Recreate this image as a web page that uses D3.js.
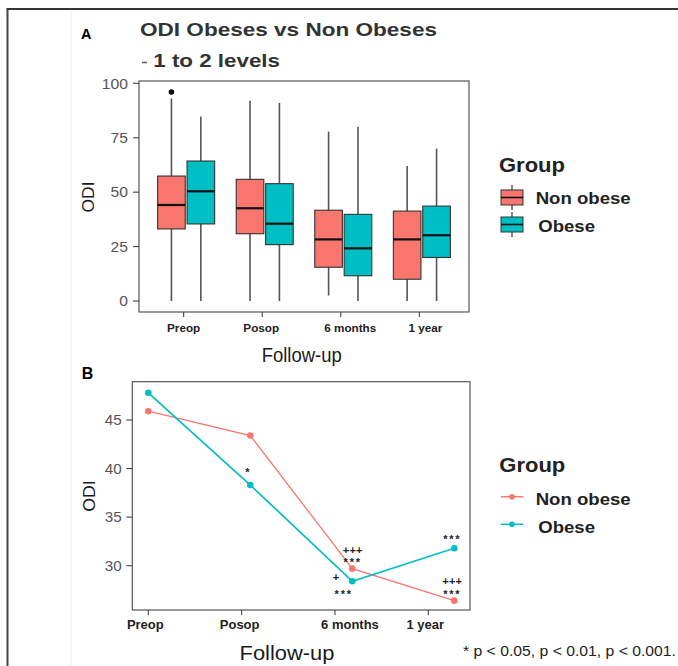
<!DOCTYPE html>
<html><head><meta charset="utf-8">
<script src="https://cdn.jsdelivr.net/npm/d3@7"></script>
<style>body{margin:0;background:#fff} svg{display:block} text{font-family:"Liberation Sans",Arial,sans-serif}</style>
</head><body><svg id="c" width="678" height="666"></svg>
<script>
// ---------- DATA ----------
const categories = ["Preop", "Posop", "6 months", "1 year"];
const groups = ["Non obese", "Obese"];
// boxplot stats per category: [lower whisker, Q1, median, Q3, upper whisker]
const nonObeseBox = [[0, 33.1, 44.1, 57.4, 93], [0, 30.9, 42.6, 55.9, 92], [2.5, 15.5, 28.3, 41.7, 77.8], [0, 10, 28.3, 41.3, 62]];
const obeseBox = [[0, 35.4, 50.4, 64.3, 84.7], [0, 25.9, 35.5, 53.9, 91], [0, 11.6, 24.2, 39.8, 80], [0, 20, 30.2, 43.6, 70]];
const outliers = [{ cat: "Preop", group: "Non obese", value: 96 }];
const yTicksA = [0, 25, 50, 75, 100];
// panel B means
const nonObeseMean = [45.9, 43.4, 29.7, 26.4];
const obeseMean = [47.8, 38.3, 28.4, 31.8];
const yTicksB = [30, 35, 40, 45];
const xTickPosB = [1, 1.915, 2.83, 3.745];
// significance marks (x in category units, y of glyph centre in ODI units)
const annotations = [
  { x: 1.98, y: 39.92, text: "*" },
  { x: 3.004, y: 31.62, text: "+++" },
  { x: 3.004, y: 30.62, text: "***" },
  { x: 2.84, y: 28.77, text: "+" },
  { x: 2.916, y: 27.33, text: "***" },
  { x: 3.98, y: 32.98, text: "***" },
  { x: 3.98, y: 28.36, text: "+++" },
  { x: 3.98, y: 27.36, text: "***" }
];
const colors = ["#F8766D", "#00BFC4"];

// ---------- HELPERS ----------
const svg = d3.select("#c");
function T(x, y, s, o = {}) {
  const t = svg.append("text")
    .attr("x", x).attr("y", y).text(s)
    .attr("font-size", o.size || 12)
    .attr("font-weight", o.weight || "normal")
    .attr("fill", o.fill || "#222")
    .attr("text-anchor", o.anchor || "start");
  if (o.width) t.attr("textLength", o.width).attr("lengthAdjust", "spacingAndGlyphs");
  if (o.ls) t.attr("letter-spacing", o.ls);
  let tr = "";
  if (o.rotate) tr += `rotate(${o.rotate},${x},${y}) `;
  if (o.sx) tr += `translate(${x},${y}) scale(${o.sx},1) translate(${-x},${-y})`;
  if (tr) t.attr("transform", tr);
  return t;
}

// frame
svg.append("line").attr("x1", 71).attr("x2", 71).attr("y1", 9).attr("y2", 666).attr("stroke", "#f0f0f0").attr("stroke-width", 1.2);
svg.append("line").attr("x1", 6.5).attr("x2", 678).attr("y1", 9).attr("y2", 9).attr("stroke", "#333").attr("stroke-width", 1.8);
svg.append("line").attr("x1", 7.5).attr("x2", 7.5).attr("y1", 9).attr("y2", 666).attr("stroke", "#444").attr("stroke-width", 2);

// ---------- PANEL A ----------
const A = { l: 139, r: 469, t: 81, b: 312 };
const xA = d3.scalePoint().domain(categories).range([A.l, A.r]).padding(0.6);
const yA = d3.scaleLinear().domain([-5.05, 101.06]).range([A.b, A.t]);
const dodge = 14.7, bw = 27.6;

T(81, 38.5, "A", { size: 14.5, weight: "bold", fill: "#000" });
T(140, 35.5, "ODI Obeses vs Non Obeses", { size: 18.5, weight: "bold", fill: "#333", width: 297 });
svg.append("line").attr("x1", 142).attr("x2", 147).attr("y1", 62.5).attr("y2", 62.5).attr("stroke", "#555").attr("stroke-width", 1.5);
T(153.3, 66.7, "1 to 2 levels", { size: 18, weight: "bold", fill: "#333", width: 126.7 });

const gA = svg.append("g");
[nonObeseBox, obeseBox].forEach((series, gi) => {
  series.forEach((s, ci) => {
    const cx = xA(categories[ci]) + (gi === 0 ? -dodge : dodge);
    gA.append("line").attr("x1", cx).attr("x2", cx).attr("y1", yA(s[0])).attr("y2", yA(s[4]))
      .attr("stroke", "#555").attr("stroke-width", 1.6);
    gA.append("rect").attr("x", cx - bw / 2).attr("width", bw).attr("y", yA(s[3])).attr("height", yA(s[1]) - yA(s[3]))
      .attr("fill", colors[gi]).attr("stroke", "#333").attr("stroke-width", 1.1);
    gA.append("line").attr("x1", cx - bw / 2).attr("x2", cx + bw / 2).attr("y1", yA(s[2])).attr("y2", yA(s[2]))
      .attr("stroke", "#111").attr("stroke-width", 2.2);
  });
});
outliers.forEach(o => {
  const cx = xA(o.cat) + (groups.indexOf(o.group) === 0 ? -dodge : dodge);
  gA.append("circle").attr("cx", cx).attr("cy", yA(o.value)).attr("r", 2.8).attr("fill", "#111");
});
svg.append("rect").attr("x", A.l).attr("y", A.t).attr("width", A.r - A.l).attr("height", A.b - A.t)
  .attr("fill", "none").attr("stroke", "#555").attr("stroke-width", 1.2);
yTicksA.forEach(v => {
  svg.append("line").attr("x1", A.l - 6).attr("x2", A.l).attr("y1", yA(v)).attr("y2", yA(v)).attr("stroke", "#444").attr("stroke-width", 1.1);
  T(128, yA(v) + 5.2, String(v), { size: 14.5, fill: "#555", anchor: "end", sx: 1.08 });
});
const labelShiftA = [0, -1, 9.5, 6];
categories.forEach((c, i) => {
  svg.append("line").attr("x1", xA(c) - 2.5).attr("x2", xA(c) - 2.5).attr("y1", A.b).attr("y2", A.b + 5).attr("stroke", "#444").attr("stroke-width", 1.1);
  T(xA(c) - 2.5 + labelShiftA[i], 331.5, c, { size: 11.7, weight: "bold", fill: "#222", anchor: "middle" });
});
T(301.7, 361.5, "Follow-up", { size: 20.5, fill: "#1a1a1a", anchor: "middle", width: 80 });
T(94.3, 197, "ODI", { size: 17, fill: "#1a1a1a", anchor: "middle", rotate: -90, width: 31 });

// legend A
T(499, 171.5, "Group", { size: 20.5, weight: "bold", fill: "#222", width: 66 });
[197.5, 224.5].forEach((cy, gi) => {
  const cx = 512;
  svg.append("line").attr("x1", cx).attr("x2", cx).attr("y1", cy - 12.5).attr("y2", cy + 12.5).attr("stroke", "#444").attr("stroke-width", 1.3);
  svg.append("rect").attr("x", cx - 11).attr("y", cy - 7.5).attr("width", 22).attr("height", 15).attr("fill", colors[gi]).attr("stroke", "#333").attr("stroke-width", 1);
  svg.append("line").attr("x1", cx - 11).attr("x2", cx + 11).attr("y1", cy).attr("y2", cy).attr("stroke", "#111").attr("stroke-width", 1.6);
});
T(535.7, 204.3, groups[0], { size: 16.8, weight: "bold", fill: "#222", width: 95 });
T(538.3, 231.7, groups[1], { size: 16.8, weight: "bold", fill: "#222", width: 56.7 });

// ---------- PANEL B ----------
const B = { l: 132.3, r: 470, t: 381.7, b: 610 };
const xB = d3.scaleLinear().domain([0.843, 4.154]).range([B.l, B.r]);
const yB = d3.scaleLinear().domain([25.44, 48.94]).range([B.b, B.t]);

T(81.7, 379, "B", { size: 16, weight: "bold", fill: "#000" });
const line = d3.line().x((d, i) => xB(i + 1)).y(d => yB(d));
[nonObeseMean, obeseMean].forEach((s, gi) => {
  svg.append("path").datum(s).attr("d", line).attr("fill", "none").attr("stroke", colors[gi]).attr("stroke-width", gi === 0 ? 1.3 : 1.7);
});
[nonObeseMean, obeseMean].forEach((s, gi) => {
  svg.selectAll(null).data(s).enter().append("circle")
    .attr("cx", (d, i) => xB(i + 1)).attr("cy", d => yB(d)).attr("r", 3.3).attr("fill", colors[gi]);
});
annotations.forEach(a => {
  const star = a.text[0] === "*";
  T(xB(a.x), yB(a.y) + (star ? 6.4 : 3.6), a.text, { size: 11, weight: "bold", fill: "#222", anchor: "middle", ls: star ? 1.8 : 0.2 });
});
svg.append("rect").attr("x", B.l).attr("y", B.t).attr("width", B.r - B.l).attr("height", B.b - B.t)
  .attr("fill", "none").attr("stroke", "#555").attr("stroke-width", 1.2);
yTicksB.forEach(v => {
  svg.append("line").attr("x1", B.l - 6).attr("x2", B.l).attr("y1", yB(v)).attr("y2", yB(v)).attr("stroke", "#444").attr("stroke-width", 1.1);
  T(121.7, yB(v) + 5.3, String(v), { size: 14.5, fill: "#555", anchor: "end", sx: 1.05 });
});
const labelShiftB = [-3, -2, 15, -3];
categories.forEach((c, i) => {
  const x = xB(xTickPosB[i]);
  svg.append("line").attr("x1", x).attr("x2", x).attr("y1", B.b).attr("y2", B.b + 5).attr("stroke", "#444").attr("stroke-width", 1.1);
  T(x + labelShiftB[i], 629, c, { size: 13, weight: "bold", fill: "#222", anchor: "middle" });
});
T(287, 660, "Follow-up", { size: 21, fill: "#1a1a1a", anchor: "middle", width: 95 });
T(95, 496, "ODI", { size: 17, fill: "#1a1a1a", anchor: "middle", rotate: -90, width: 31.5 });

// legend B
T(499.3, 472.3, "Group", { size: 20.5, weight: "bold", fill: "#222", width: 66 });
[496.7, 524.3].forEach((cy, gi) => {
  svg.append("line").attr("x1", 501).attr("x2", 523.3).attr("y1", cy).attr("y2", cy).attr("stroke", colors[gi]).attr("stroke-width", 1.5);
  svg.append("circle").attr("cx", 512).attr("cy", cy).attr("r", 2.8).attr("fill", colors[gi]);
});
T(535.7, 505, groups[0], { size: 16.8, weight: "bold", fill: "#222", width: 95 });
T(538.3, 533, groups[1], { size: 16.8, weight: "bold", fill: "#222", width: 56.7 });

T(463, 656, "* p < 0.05, p < 0.01, p < 0.001.", { size: 15, fill: "#222", width: 213 });
</script></body></html>
